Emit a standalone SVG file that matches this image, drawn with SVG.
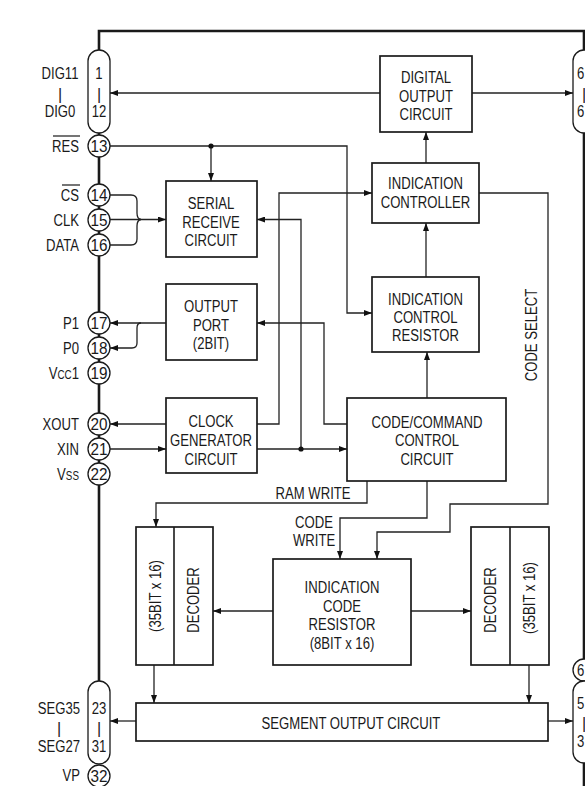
<svg xmlns="http://www.w3.org/2000/svg" width="585" height="786" viewBox="0 0 585 786">
<style>
text{font-family:"Liberation Sans Narrow","Liberation Sans",Arial,sans-serif;font-size:16px;fill:#1a1a1a;transform-box:fill-box;transform-origin:0% 50%;transform:scaleX(0.82)}
.m{text-anchor:middle;transform-origin:50% 50%}
.e{text-anchor:end;transform-origin:100% 50%}
.bar{text-anchor:middle;transform:none}
.n{font-size:17px;text-anchor:middle;transform-origin:50% 50%;transform:scaleX(0.9)}
.blk{fill:#fff;stroke:#1a1a1a;stroke-width:1.7}
.pin{fill:#fff;stroke:#1a1a1a;stroke-width:1.3}
.frame{fill:none;stroke:#1a1a1a;stroke-width:2.6}
.c{fill:none;stroke:#222;stroke-width:1.3}
.ca{fill:none;stroke:#222;stroke-width:1.3;marker-end:url(#ah)}
.dot{fill:#111}
</style>
<defs>
<marker id="ah" markerUnits="userSpaceOnUse" markerWidth="9" markerHeight="6" refX="8" refY="3" orient="auto">
<path d="M0,0 L8,3 L0,6 z" fill="#111"/>
</marker>
</defs>
<rect width="585" height="786" fill="#fff"/>
<g id="frame">
<path class="frame" d="M99,681 V31 H584 V786"/>
</g>
<g id="connectors">
<path class="ca" d="M380,93 H110"/>
<path class="ca" d="M472,93 H573"/>
<path class="ca" d="M426,163 V132"/>
<path class="ca" d="M426,277 V223"/>
<path class="ca" d="M427,398 V352"/>
<path class="ca" d="M110,146 H347 V313 H372"/>
<path class="ca" d="M211,146 V181"/>
<path class="c" d="M110,195 H131 Q137,195 137,201 V213 Q137,219 141,219.5"/>
<path class="c" d="M110,245 H131 Q137,245 137,239 V226 Q137,220 141,219.5"/>
<path class="ca" d="M110,219.5 H166"/>
<path class="ca" d="M301,449 V219.5 H257"/>
<path class="ca" d="M257,424 H279 V193 H372"/>
<path class="ca" d="M347,424 H324 V323 H257"/>
<path class="ca" d="M257,449 H347"/>
<path class="ca" d="M166,424 H110"/>
<path class="ca" d="M110,449 H166"/>
<path class="ca" d="M166,323 H110"/>
<path class="ca" d="M141,323 Q137,323 137,328 V343 Q137,348 132,348 H110"/>
<path class="ca" d="M479,193 H548 V504 H450 V532 H377 V559"/>
<path class="ca" d="M367,481 V503 H156 V527"/>
<path class="ca" d="M427,481 V518 H340 V559"/>
<path class="ca" d="M273,611 H213"/>
<path class="ca" d="M411,611 H471"/>
<path class="ca" d="M154,665 V703"/>
<path class="ca" d="M529,665 V703"/>
<path class="ca" d="M136,721 H110"/>
<path class="ca" d="M548,721 H573"/>
<circle class="dot" cx="211" cy="146" r="2.6"/>
<circle class="dot" cx="301" cy="449" r="2.6"/>
<text x="313" y="499.5" class="m">RAM WRITE</text>
<text x="314" y="528" class="m">CODE</text>
<text x="314" y="546" class="m">WRITE</text>
<g transform="translate(531,335) rotate(-90)"><text x="0" y="5.5" class="m">CODE SELECT</text></g>
</g>
<g id="pins-left">
<rect class="pin" x="88" y="50" width="22" height="83" rx="11"/>
<text x="99" y="79" class="m">1</text>
<text x="99" y="99.5" class="bar">|</text>
<text x="99" y="117" class="m">12</text>
<text x="60" y="79" class="m">DIG11</text>
<text x="60" y="99.5" class="bar">|</text>
<text x="60" y="117" class="m">DIG0</text>
<circle class="pin" cx="99" cy="146" r="11"/><text x="99" y="152" class="n">13</text>
<text x="79" y="152" class="e">RES</text><line x1="53" y1="136" x2="80" y2="136" stroke="#1a1a1a" stroke-width="1.2"/>
<circle class="pin" cx="99" cy="195" r="11"/><text x="99" y="201" class="n">14</text>
<text x="79" y="201" class="e">CS</text><line x1="62" y1="185" x2="80" y2="185" stroke="#1a1a1a" stroke-width="1.2"/>
<circle class="pin" cx="99" cy="220" r="11"/><text x="99" y="226" class="n">15</text>
<text x="79" y="226" class="e">CLK</text>
<circle class="pin" cx="99" cy="245" r="11"/><text x="99" y="251" class="n">16</text>
<text x="79" y="251" class="e">DATA</text>
<circle class="pin" cx="99" cy="323" r="11"/><text x="99" y="329" class="n">17</text>
<text x="79" y="329" class="e">P1</text>
<circle class="pin" cx="99" cy="348" r="11"/><text x="99" y="354" class="n">18</text>
<text x="79" y="354" class="e">P0</text>
<circle class="pin" cx="99" cy="373" r="11"/><text x="99" y="379" class="n">19</text>
<text x="79" y="379" class="e">V<tspan font-size="12">CC</tspan>1</text>
<circle class="pin" cx="99" cy="424" r="11"/><text x="99" y="430" class="n">20</text>
<text x="79" y="430" class="e">XOUT</text>
<circle class="pin" cx="99" cy="449" r="11"/><text x="99" y="455" class="n">21</text>
<text x="79" y="455" class="e">XIN</text>
<circle class="pin" cx="99" cy="474" r="11"/><text x="99" y="480" class="n">22</text>
<text x="79" y="480" class="e">V<tspan font-size="12">SS</tspan></text>
<rect class="pin" x="88" y="681" width="22" height="83" rx="11"/>
<text x="99" y="714" class="m">23</text>
<text x="99" y="734" class="bar">|</text>
<text x="99" y="752" class="m">31</text>
<text x="59" y="714" class="m">SEG35</text>
<text x="59" y="734" class="bar">|</text>
<text x="59" y="752" class="m">SEG27</text>
<circle class="pin" cx="99" cy="776" r="11"/><text x="99" y="782" class="n">32</text>
<text x="80" y="781" class="e">VP</text>
</g>
<g id="pins-right">
<rect class="pin" x="573" y="50" width="22" height="83" rx="11"/>
<text x="577" y="79">6</text>
<text x="584" y="99.5" class="bar">|</text>
<text x="577" y="117">6</text>
<circle class="pin" cx="584" cy="670" r="11"/><text x="577" y="676" font-size="17">6</text>
<rect class="pin" x="573" y="681" width="22" height="82" rx="11"/>
<text x="577" y="709">5</text>
<text x="584" y="729" class="bar">|</text>
<text x="577" y="747">3</text>
</g>
<g id="digital-output">
<rect class="blk" x="380" y="56" width="92" height="76"/>
<text x="426" y="83.5" class="m">DIGITAL</text>
<text x="426" y="102.5" class="m">OUTPUT</text>
<text x="426" y="120" class="m">CIRCUIT</text>
</g>
<g id="indication-controller">
<rect class="blk" x="372" y="163" width="107" height="60"/>
<text x="425.5" y="189.5" class="m">INDICATION</text>
<text x="425.5" y="208" class="m">CONTROLLER</text>
</g>
<g id="serial-receive">
<rect class="blk" x="166" y="181" width="91" height="76"/>
<text x="211" y="209" class="m">SERIAL</text>
<text x="211" y="228" class="m">RECEIVE</text>
<text x="211" y="246" class="m">CIRCUIT</text>
</g>
<g id="indication-control-resistor">
<rect class="blk" x="372" y="277" width="107" height="75"/>
<text x="425.5" y="305" class="m">INDICATION</text>
<text x="425.5" y="323" class="m">CONTROL</text>
<text x="425.5" y="341.5" class="m">RESISTOR</text>
</g>
<g id="output-port">
<rect class="blk" x="166" y="284" width="91" height="76"/>
<text x="211" y="312.5" class="m">OUTPUT</text>
<text x="211" y="331" class="m">PORT</text>
<text x="211" y="349" class="m">(2BIT)</text>
</g>
<g id="clock-generator">
<rect class="blk" x="166" y="398" width="91" height="75"/>
<text x="211" y="427.5" class="m">CLOCK</text>
<text x="211" y="446.5" class="m">GENERATOR</text>
<text x="211" y="465" class="m">CIRCUIT</text>
</g>
<g id="code-command">
<rect class="blk" x="347" y="398" width="159" height="83"/>
<text x="427" y="428.5" class="m">CODE/COMMAND</text>
<text x="427" y="446.5" class="m">CONTROL</text>
<text x="427" y="465" class="m">CIRCUIT</text>
</g>
<g id="indication-code-resistor">
<rect class="blk" x="273" y="559" width="138" height="106"/>
<text x="342" y="593.5" class="m">INDICATION</text>
<text x="342" y="612" class="m">CODE</text>
<text x="342" y="630" class="m">RESISTOR</text>
<text x="342" y="649" class="m">(8BIT x 16)</text>
</g>
<g id="memory-left">
<rect class="blk" x="136" y="527" width="77" height="138"/>
<line x1="174" y1="527" x2="174" y2="665" stroke="#1a1a1a" stroke-width="1.6"/>
<g transform="translate(155,596) rotate(-90)"><text x="0" y="5.5" class="m">(35BIT x 16)</text></g>
<g transform="translate(193.5,600) rotate(-90)"><text x="0" y="5.5" class="m">DECODER</text></g>
</g>
<g id="memory-right">
<rect class="blk" x="471" y="527" width="78" height="138"/>
<line x1="510" y1="527" x2="510" y2="665" stroke="#1a1a1a" stroke-width="1.6"/>
<g transform="translate(490.5,600) rotate(-90)"><text x="0" y="5.5" class="m">DECODER</text></g>
<g transform="translate(529.5,598) rotate(-90)"><text x="0" y="5.5" class="m">(35BIT x 16)</text></g>
</g>
<g id="segment-output">
<rect class="blk" x="136" y="703" width="412" height="38"/>
<text x="351" y="729.5" class="m">SEGMENT OUTPUT CIRCUIT</text>
</g>
</svg>
